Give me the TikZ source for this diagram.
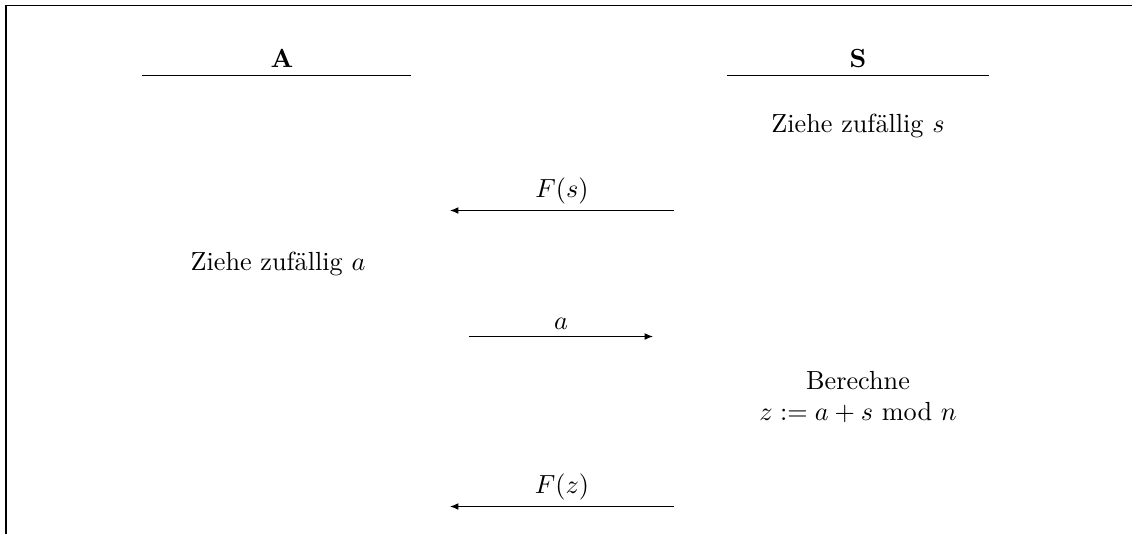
\documentclass[tikz,border=0pt]{standalone}
\usetikzlibrary{arrows.meta}
\begin{document}
\begin{tikzpicture}[x=0.3816pt,y=-0.3816pt,
  txt/.style={inner sep=0pt, align=center},
  head/.style={inner sep=0pt, font=\bfseries},
  msg/.style={line width=0.4pt, -{Latex[length=3.2pt,width=2.6pt]}},
  lbl/.style={above, inner sep=2.3pt}]
\useasboundingbox (0,0) rectangle (1132,534);
% frame (cut)
\draw[line width=0.6pt] (6,534) -- (6,5.5) -- (1132,5.5);
% headers
\node[head, anchor=base] (A) at (282,67) {A};
\node[head, anchor=base] (S) at (858,67) {S};
\coordinate (A1) at (142,75.7);
\coordinate (A2) at (411,75.7);
\coordinate (S1) at (727,75.7);
\coordinate (S2) at (989,75.7);
\draw (A1) -- (A2);
\draw (S1) -- (S2);
% actions
\node[txt, anchor=base] (s1) at (858,132) {Ziehe zufällig $s$};
\node[txt, anchor=base] (a1) at (278,270) {Ziehe zufällig $a$};
\node[txt] (b1) at (858,397) {Berechne\\$z := a + s\ \mathrm{mod}\ n$};
% messages
\coordinate (m1s) at (674,210.5);
\coordinate (m1e) at (450,210.5);
\coordinate (m2s) at (469,336.5);
\coordinate (m2e) at (653,336.5);
\coordinate (m3s) at (674,506.5);
\coordinate (m3e) at (450,506.5);
\draw[msg] (m1s) -- node[lbl] (l1) {$F(s)$} (m1e);
\draw[msg] (m2s) -- node[lbl] (l2) {$a$} (m2e);
\draw[msg] (m3s) -- node[lbl] (l3) {$F(z)$} (m3e);
\end{tikzpicture}
\end{document}
